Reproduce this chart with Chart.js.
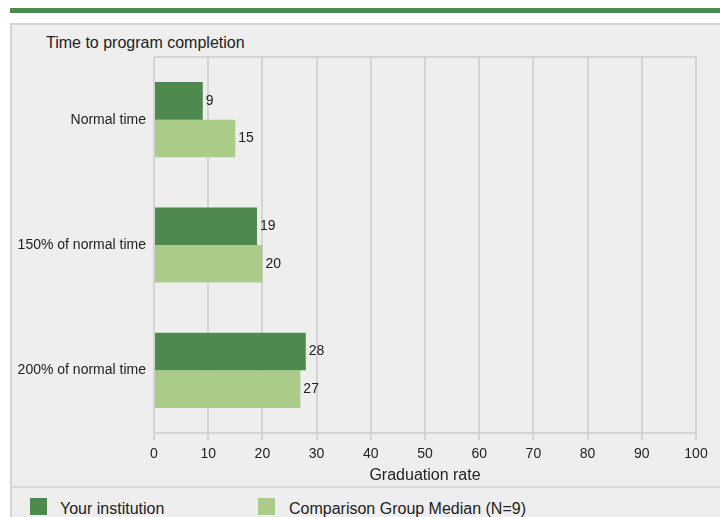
<!DOCTYPE html>
<html>
<head>
<meta charset="utf-8">
<script src="https://cdn.jsdelivr.net/npm/chart.js@4"></script>
<style>
  body { margin: 0; width: 720px; height: 517px; overflow: hidden; background: #fff;
         font-family: "Liberation Sans", Arial, sans-serif; color: #222; }
  #barre { position: absolute; left: 10px; top: 8px; width: 710px; height: 5px; background: #4e8a4e; }
  #cadre { position: absolute; left: 10px; top: 23px; width: 720px; height: 500px;
           background: #eeeeee; border-top: 2px solid #d4d4d4; border-left: 2px solid #d4d4d4; }
  #titre { position: absolute; left: 46px; top: 34px; font-size: 16px; line-height: 18px; }
  #zone { position: absolute; left: 11px; top: 24px; width: 709px; height: 463px; }
  #separateur { position: absolute; left: 10px; top: 486px; width: 710px; height: 2px; background: #d8d8d8; }
  #legende { position: absolute; left: 0; top: 498px; font-size: 16px; }
  .item { position: absolute; top: 0; white-space: nowrap; line-height: 17px; }
  .carre { position: absolute; top: 0; width: 17px; height: 17px; }
</style>
</head>
<body>
<div id="barre"></div>
<div id="cadre"></div>
<div id="titre">Time to program completion</div>
<div id="zone"><canvas id="graphe"></canvas></div>
<div id="separateur"></div>
<div id="legende"></div>

<script>
// ---- DONNÉES ----
const categories = ['Normal time', '150% of normal time', '200% of normal time']
const series = ['Your institution', 'Comparison Group Median (N=9)']
const institution = [9, 19, 28]
const comparaison = [15, 20, 27]
const couleurs = ['#4e8a4e', '#abcb89']

const police = '"Liberation Sans", Arial, sans-serif'

// ---- Étiquettes de valeur à droite des barres ----
const etiquettes = {
  id: 'etiquettes',
  afterDatasetsDraw(chart) {
    const ctx = chart.ctx
    ctx.save()
    ctx.font = '14px ' + police
    ctx.fillStyle = '#222'
    ctx.textBaseline = 'middle'
    chart.data.datasets.forEach((ds, i) => {
      chart.getDatasetMeta(i).data.forEach((barre, j) => {
        ctx.fillText(ds.data[j], barre.x + 3, barre.y)
      })
    })
    ctx.restore()
  }
}

// ---- Cadre haut et droit de la zone de tracé ----
const cadre = {
  id: 'cadre',
  beforeDatasetsDraw(chart) {
    const { ctx, chartArea: a } = chart
    ctx.save()
    ctx.strokeStyle = '#d4d4d4'
    ctx.lineWidth = 2
    ctx.beginPath()
    ctx.moveTo(a.left, a.top)
    ctx.lineTo(a.right, a.top)
    ctx.lineTo(a.right, a.bottom)
    ctx.stroke()
    ctx.restore()
  }
}

new Chart(document.getElementById('graphe'), {
  type: 'bar',
  data: {
    labels: categories,
    datasets: [
      { label: series[0], data: institution, backgroundColor: couleurs[0] },
      { label: series[1], data: comparaison, backgroundColor: couleurs[1] }
    ]
  },
  options: {
    indexAxis: 'y',
    responsive: true,
    maintainAspectRatio: false,
    animation: false,
    categoryPercentage: 0.6,
    barPercentage: 1,
    layout: { padding: { top: 33, right: 24, bottom: 0, left: 0 } },
    scales: {
      x: {
        min: 0,
        max: 100,
        ticks: { stepSize: 10, color: '#222', font: { size: 14, family: police }, padding: 6 },
        grid: { color: '#d4d4d4', lineWidth: 2, tickLength: 7 },
        border: { display: true, color: '#d4d4d4', width: 2 },
        title: { display: true, text: 'Graduation rate', color: '#222',
                 font: { size: 16, family: police }, padding: { top: 2, bottom: 2 } },
        afterFit(s) { s.height = 54 }
      },
      y: {
        ticks: { color: '#222', font: { size: 14, family: police }, padding: 8 },
        grid: { display: false, drawTicks: false },
        border: { display: false },
        afterFit(s) { s.width = 143 }
      }
    },
    plugins: {
      legend: { display: false },
      tooltip: { enabled: false }
    }
  },
  plugins: [cadre, etiquettes]
})

// ---- LÉGENDE ----
const positions = [30, 258]
const legende = document.getElementById('legende')
series.forEach((nom, i) => {
  const item = document.createElement('div')
  item.className = 'item'
  item.style.left = positions[i] + 'px'
  item.innerHTML = `<span class="carre" style="left:0;background:${couleurs[i]}"></span>
    <span style="position:absolute;left:${i === 0 ? 30 : 31}px;top:2px">${nom}</span>`
  legende.appendChild(item)
})
</script>
</body>
</html>
